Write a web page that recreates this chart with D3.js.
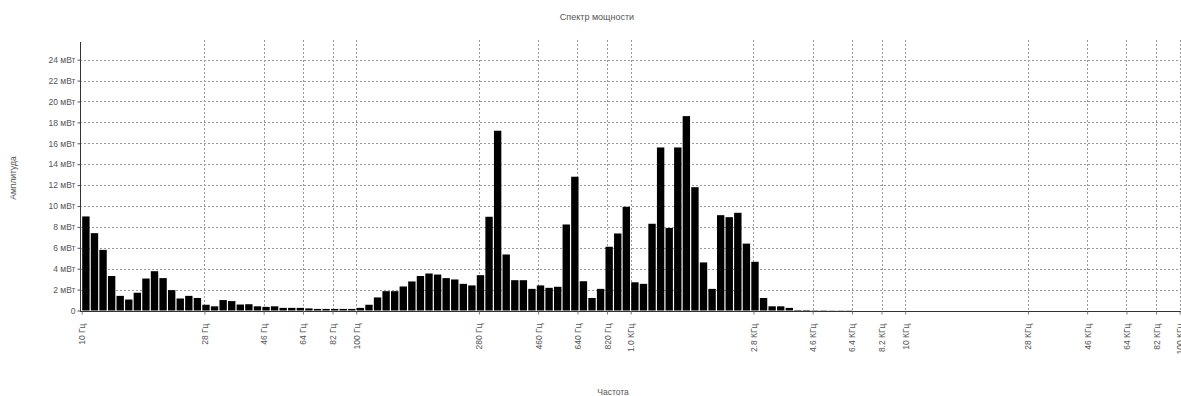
<!DOCTYPE html>
<html>
<head>
<meta charset="utf-8">
<script src="https://cdn.jsdelivr.net/npm/d3@7"></script>
<style>
  body { margin: 0; background: #fff; }
  svg { display: block; font-family: "Liberation Sans", Arial, sans-serif; }
</style>
</head>
<body>
<svg id="chart"></svg>
<script>
// spectrum bands: 32 bands per decade starting at 10 Hz
const startFreq = 10
const bandsPerDecade = 32

// power per band, mW
const power = [
  9.0, 7.4, 5.8, 3.3, 1.4, 1.05, 1.7, 3.06, 3.76, 3.1,
  1.95, 1.15, 1.4, 1.2, 0.55, 0.4, 1.0, 0.9, 0.57, 0.6,
  0.4, 0.35, 0.4, 0.25, 0.25, 0.25, 0.2, 0.15, 0.15, 0.15,
  0.15, 0.15, 0.25, 0.55, 1.25, 1.85, 1.85, 2.3, 2.78, 3.3,
  3.54, 3.44, 3.1, 2.97, 2.55, 2.4, 3.38, 8.97, 17.2, 5.36,
  2.9, 2.9, 2.07, 2.4, 2.17, 2.27, 8.23, 12.8, 2.8, 1.2,
  2.07, 6.1, 7.37, 9.92, 2.7, 2.55, 8.3, 15.6, 7.9, 15.6,
  18.6, 11.8, 4.6, 2.07, 9.12, 8.93, 9.35, 6.4, 4.66, 1.2,
  0.4, 0.4, 0.25, 0.05, 0.05, 0.03, 0.03, 0.02, 0.02, 0.02
]

const freqTicks = [10, 28, 46, 64, 82, 100, 280, 460, 640, 820, 1000,
  2800, 4600, 6400, 8200, 10000, 28000, 46000, 64000, 82000, 100000]
const powerTicks = [0, 2, 4, 6, 8, 10, 12, 14, 16, 18, 20, 22, 24]

const width = 1181
const height = 396
const margin = { top: 44, right: 1, bottom: 85, left: 81.7 }

const svg = d3.select('#chart')
  .attr('width', width)
  .attr('height', height)

const x = d3.scaleLog()
  .domain([10, 100000])
  .range([margin.left, margin.left + 4 * 274.5])

const y = d3.scaleLinear()
  .domain([0, 25.5])
  .range([310.5, margin.top])

const fmtFreq = f => f < 1000 ? f + ' Гц' : (f < 10000 ? (f / 1000).toFixed(1) : (f / 1000)) + ' КГц'

// grid
svg.append('g')
  .selectAll('line')
  .data(powerTicks.filter(d => d > 0))
  .join('line')
  .attr('x1', 80).attr('x2', width)
  .attr('y1', d => Math.round(y(d)) + 0.5).attr('y2', d => Math.round(y(d)) + 0.5)
  .attr('stroke', '#999')
  .attr('stroke-dasharray', '2,2')

svg.append('g')
  .selectAll('line')
  .data(freqTicks.slice(1))
  .join('line')
  .attr('x1', d => Math.round(x(d)) + 0.5).attr('x2', d => Math.round(x(d)) + 0.5)
  .attr('y1', 40).attr('y2', 311)
  .attr('stroke', '#999')
  .attr('stroke-dasharray', '2,2')

// bars
const bandEdge = i => startFreq * Math.pow(10, i / bandsPerDecade)
svg.append('g')
  .selectAll('rect')
  .data(power)
  .join('rect')
  .attr('x', (d, i) => x(bandEdge(i)) + 0.5)
  .attr('width', (d, i) => x(bandEdge(i + 1)) - x(bandEdge(i)) - 1.2)
  .attr('y', d => y(d))
  .attr('height', d => y(0) - y(d))
  .attr('fill', '#000')

// axes
const yAxis = svg.append('g')
  .attr('transform', 'translate(80.5,0)')
  .call(d3.axisLeft(y).tickValues(powerTicks).tickSize(3).tickPadding(2)
    .tickFormat(d => d === 0 ? '0' : d + ' мВт'))
yAxis.select('.domain').attr('d', `M0,${margin.top - 2}V311`).attr('stroke', '#333')
yAxis.selectAll('text').attr('font-size', 8.5).attr('fill', '#555')
yAxis.selectAll('.tick line').attr('stroke', '#555')

const xAxis = svg.append('g')
  .attr('transform', 'translate(0,311.5)')
  .call(d3.axisBottom(x).tickValues(freqTicks).tickSize(3).tickFormat(fmtFreq))
xAxis.select('.domain').attr('d', `M80,0H${width}`).attr('stroke', '#333')
xAxis.selectAll('.tick line').attr('stroke', '#777')
xAxis.selectAll('text')
  .attr('font-size', 8.5)
  .attr('fill', '#555')
  .attr('transform', 'rotate(-90)')
  .attr('x', -12)
  .attr('y', 0)
  .attr('dy', '0.35em')
  .style('text-anchor', 'end')

// titles
svg.append('text')
  .attr('x', 597).attr('y', 20)
  .attr('text-anchor', 'middle')
  .attr('font-size', 9).attr('fill', '#555')
  .text('Спектр мощности')

svg.append('text')
  .attr('transform', 'translate(16,178) rotate(-90)')
  .attr('text-anchor', 'middle')
  .attr('font-size', 8.5).attr('fill', '#555')
  .text('Амплитуда')

svg.append('text')
  .attr('x', 613).attr('y', 395)
  .attr('text-anchor', 'middle')
  .attr('font-size', 8.5).attr('fill', '#555')
  .text('Частота')
</script>
</body>
</html>
